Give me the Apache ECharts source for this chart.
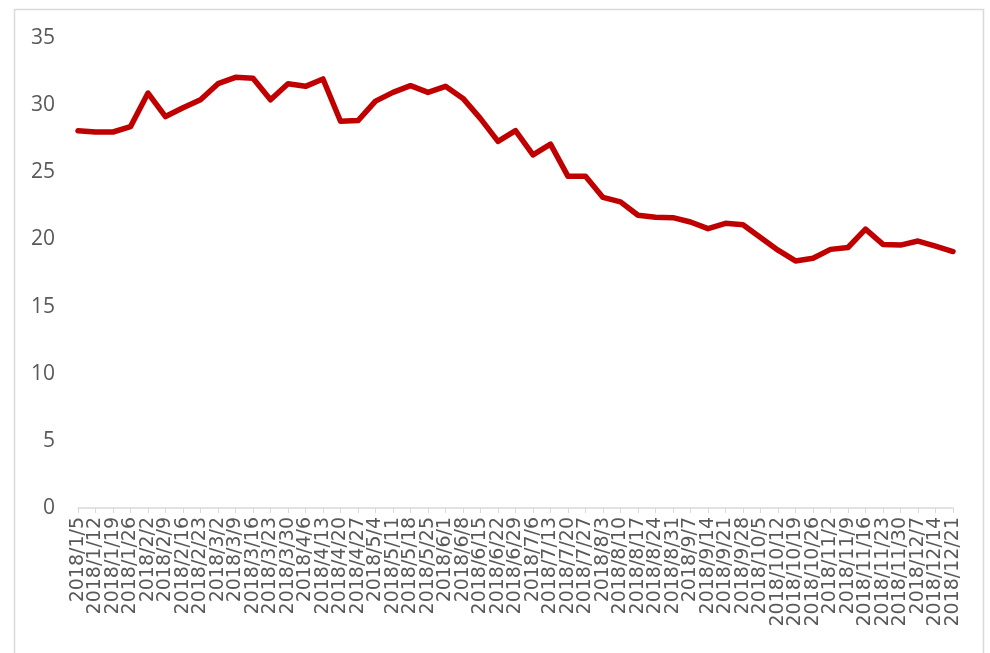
<!DOCTYPE html>
<html>
<head>
<meta charset="utf-8">
<title>2018 weekly series</title>
<script src="https://cdn.jsdelivr.net/npm/echarts@6/dist/echarts.min.js"></script>
<style>
  html, body { margin: 0; padding: 0; background: #ffffff; }
  #chart { width: 990px; height: 653px; }
</style>
</head>
<body>
<div id="chart"></div>
<script>
// Weekly dates (Fridays) of 2018
const weeks = [
  '2018/1/5', '2018/1/12', '2018/1/19', '2018/1/26', '2018/2/2', '2018/2/9', '2018/2/16', '2018/2/23',
  '2018/3/2', '2018/3/9', '2018/3/16', '2018/3/23', '2018/3/30', '2018/4/6', '2018/4/13', '2018/4/20',
  '2018/4/27', '2018/5/4', '2018/5/11', '2018/5/18', '2018/5/25', '2018/6/1', '2018/6/8', '2018/6/15',
  '2018/6/22', '2018/6/29', '2018/7/6', '2018/7/13', '2018/7/20', '2018/7/27', '2018/8/3', '2018/8/10',
  '2018/8/17', '2018/8/24', '2018/8/31', '2018/9/7', '2018/9/14', '2018/9/21', '2018/9/28', '2018/10/5',
  '2018/10/12', '2018/10/19', '2018/10/26', '2018/11/2', '2018/11/9', '2018/11/16', '2018/11/23',
  '2018/11/30', '2018/12/7', '2018/12/14', '2018/12/21'
];

// Weekly values
const values = [
  28.1, 28.0, 28.0, 28.4, 30.9, 29.15, 29.8, 30.4,
  31.6, 32.07, 32.0, 30.4, 31.6, 31.4, 31.95, 28.8,
  28.85, 30.3, 30.95, 31.45, 30.95, 31.4, 30.5, 29.0,
  27.3, 28.1, 26.3, 27.1, 24.7, 24.7, 23.13, 22.8,
  21.8, 21.65, 21.62, 21.3, 20.8, 21.2, 21.1, 20.15,
  19.2, 18.4, 18.6, 19.26, 19.4, 20.77, 19.63,
  19.58, 19.88, 19.5, 19.1
];

// Value axis ticks
const yTicks = { min: 0, max: 35, interval: 5 };

const chart = echarts.init(document.getElementById('chart'), null, { renderer: 'canvas' });

chart.setOption({
  backgroundColor: '#ffffff',
  animation: false,
  graphic: [{
    type: 'rect',
    silent: true,
    z: -10,
    shape: { x: 14.5, y: 9.5, width: 969, height: 700 },
    style: { fill: 'none', stroke: '#d9d9d9', lineWidth: 1.5 }
  }],
  grid: { left: 78, right: 37, top: 38, bottom: 145, containLabel: false },
  xAxis: {
    type: 'category',
    data: weeks,
    boundaryGap: false,
    axisLine: { show: true, lineStyle: { color: '#d9d9d9', width: 1.5 } },
    axisTick: { show: true, length: 5, interval: 0, lineStyle: { color: '#d9d9d9', width: 1 } },
    axisLabel: {
      interval: 0,
      rotate: 90,
      margin: 9,
      color: '#595959',
      fontFamily: 'DejaVu Sans',
      fontSize: 19
    },
    splitLine: { show: false }
  },
  yAxis: {
    type: 'value',
    min: yTicks.min,
    max: yTicks.max,
    interval: yTicks.interval,
    axisLine: { show: false },
    axisTick: { show: false },
    splitLine: { show: false },
    axisLabel: {
      margin: 23,
      color: '#595959',
      fontFamily: 'Open Sans',
      fontSize: 21
    }
  },
  series: [{
    type: 'line',
    data: values,
    symbol: 'none',
    smooth: false,
    lineStyle: { color: '#c00000', width: 5.5, join: 'round', cap: 'round' },
    itemStyle: { color: '#c00000' }
  }]
});
</script>
</body>
</html>
